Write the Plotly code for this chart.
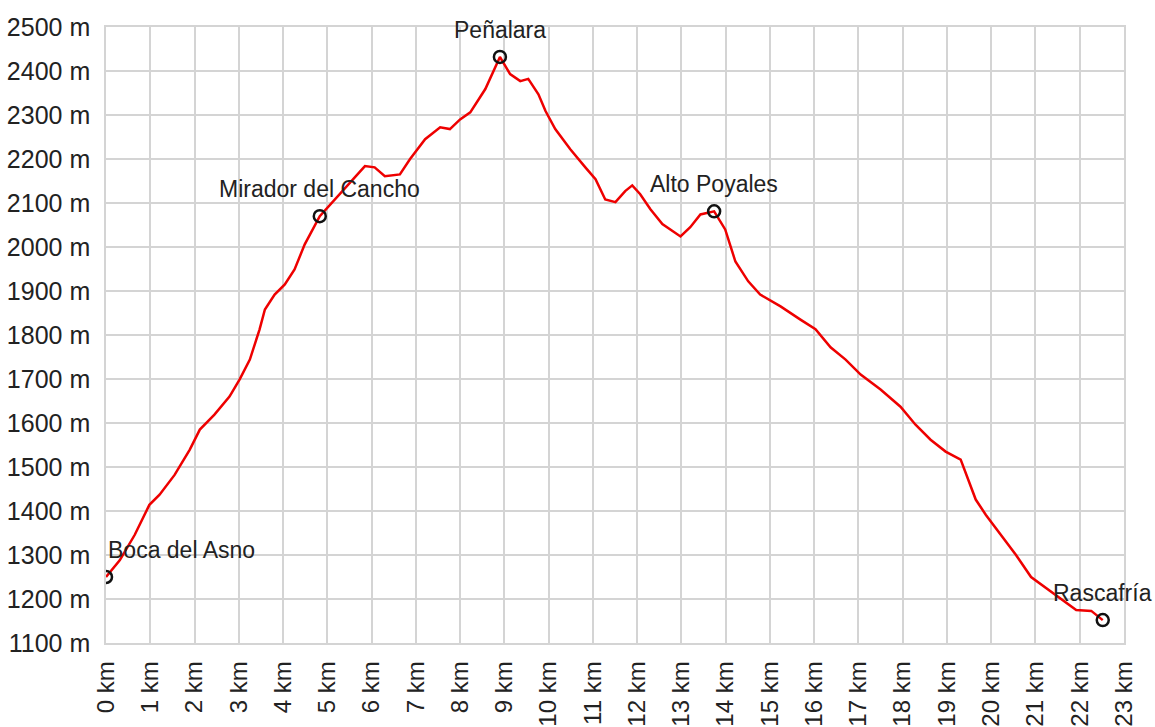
import plotly.graph_objects as go

dist_km = [0, 0.31, 0.65, 0.98, 1.21, 1.55, 1.89, 2.12, 2.45, 2.79, 3.02, 3.25, 3.47, 3.59, 3.81, 4.04,
           4.26, 4.49, 4.83, 5.17, 5.51, 5.85, 6.07, 6.30, 6.64, 6.87, 7.21, 7.55, 7.77, 8.0, 8.23, 8.57,
           8.9, 9.13, 9.36, 9.54, 9.77, 9.93, 10.15, 10.49, 10.83, 11.06, 11.28, 11.51, 11.73, 11.89,
           12.07, 12.3, 12.57, 12.98, 13.2, 13.43, 13.74, 13.99, 14.22, 14.51, 14.78, 15.24, 15.69,
           16.03, 16.37, 16.71, 17.05, 17.5, 17.95, 18.29, 18.63, 18.97, 19.31, 19.65, 19.88, 20.22,
           20.56, 20.9, 21.24, 21.58, 21.92, 22.26, 22.52]
elev_m = [1250, 1288, 1346, 1414, 1437, 1482, 1539, 1585, 1619, 1660, 1699, 1744, 1813, 1858, 1892, 1915,
          1949, 2006, 2070, 2108, 2147, 2184, 2181, 2161, 2165, 2200, 2245, 2272, 2268, 2290, 2306, 2359,
          2432, 2393, 2377, 2382, 2347, 2309, 2268, 2222, 2181, 2154, 2108, 2102, 2127, 2140,
          2120, 2086, 2052, 2024, 2045, 2074, 2081, 2040, 1967, 1922, 1892, 1865, 1835,
          1813, 1772, 1744, 1710, 1676, 1637, 1596, 1562, 1535, 1517, 1426, 1391, 1346,
          1300, 1250, 1225, 1198, 1175, 1173, 1152]

wp_names = ["Boca del Asno", "Mirador del Cancho", "Peñalara", "Alto Poyales", "Rascafría"]
wp_km = [0, 4.83, 8.9, 13.74, 22.52]
wp_m = [1250, 2070, 2432, 2081, 1152]

x_ticks = list(range(0, 24))
y_ticks = list(range(1100, 2600, 100))

FONT = "Liberation Sans, Arial, sans-serif"

fig = go.Figure()
fig.add_trace(go.Scatter(x=dist_km, y=elev_m, mode="lines",
                         line=dict(color="#ee0000", width=2.5), hoverinfo="skip"))
fig.add_trace(go.Scatter(x=wp_km, y=wp_m, mode="markers",
                         marker=dict(symbol="circle-open", size=12, color="#111",
                                     line=dict(width=2.5, color="#111")), hoverinfo="skip"))

for i, (n, xv, yv) in enumerate(zip(wp_names, wp_km, wp_m)):
    fig.add_annotation(x=xv, y=yv, text=n, showarrow=False,
                       xanchor="left" if i == 0 else "center", yanchor="bottom",
                       xshift=0, yshift=12,
                       font=dict(family=FONT, size=23, color="#222"))

fig.update_layout(
    width=1155, height=727,
    margin=dict(l=106, r=31, t=27, b=84),
    plot_bgcolor="white", paper_bgcolor="white",
    showlegend=False,
    font=dict(family=FONT, size=24, color="#222"),
    xaxis=dict(range=[0, 23], tickvals=x_ticks, ticktext=[f"{v} km" for v in x_ticks],
               tickangle=-90, showgrid=True, gridcolor="#d4d4d4", gridwidth=1.5,
               zeroline=False, showline=True, linecolor="#d4d4d4", linewidth=1.5,
               mirror=True, ticks="", ticklabelstandoff=7, automargin=False,
               tickfont=dict(family=FONT, size=24, color="#222"), fixedrange=True),
    yaxis=dict(range=[1100, 2500], tickvals=y_ticks, ticktext=[f"{v} m" for v in y_ticks],
               showgrid=True, gridcolor="#d4d4d4", gridwidth=1.5,
               zeroline=False, showline=True, linecolor="#d4d4d4", linewidth=1.5,
               mirror=True, ticks="", ticklabelstandoff=9, automargin=False,
               tickfont=dict(family=FONT, size=25, color="#222"), fixedrange=True),
)

fig.write_html("out.html", config={"displayModeBar": False},
               post_script="document.body.style.margin='0';document.body.style.overflow='hidden';")
